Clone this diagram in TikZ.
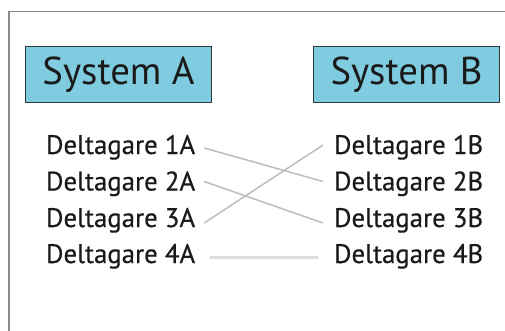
\documentclass[tikz,border=0pt]{standalone}
\usepackage{fontspec}
\setmainfont{PT Sans}
\newfontfamily\lblfont[FakeBold=0.5]{PT Sans}
\definecolor{boxfill}{HTML}{7FCCE0}
\definecolor{boxline}{HTML}{333A3D}
\definecolor{txt}{HTML}{1A1A1A}
\definecolor{frame}{HTML}{8A8A8A}
\definecolor{link}{HTML}{BDBDBD}
\definecolor{linkl}{HTML}{DDDDDD}
\begin{document}
\begin{tikzpicture}[x=1pt,y=-1pt,
  sysbox/.style={draw=boxline,line width=1.6pt,fill=boxfill,minimum width=186pt,minimum height=56pt,inner sep=0pt,
    font=\fontsize{38.8}{42}\selectfont,text=txt},
  lbl/.style={font=\lblfont\fontsize{26.8}{30}\selectfont,text=txt,inner sep=0pt,text height=19pt,text depth=5pt},
  lblA/.style={lbl,anchor=base west,outer xsep=9pt},
  lblB/.style={lbl,anchor=base west,outer xsep=11pt},
  conn/.style={draw=link,line width=1.5pt},
  conn4/.style={draw=linkl,line width=3pt}]
\useasboundingbox (0,0) rectangle (505,331);
\coordinate (fa) at (9,331);
\coordinate (fb) at (9,11.5);
\coordinate (fc) at (505,11.5);
\draw[frame,line width=1.6pt] (fa) -- (fb) -- (fc);
\node[sysbox] (sa) at (118.5,74.5) {System A};
\node[sysbox] (sb) at (406.5,74.5) {System B};
\node[lblA] (a1) at (37,154) {Deltagare 1A};
\node[lblA] (a2) at (37,190.5) {Deltagare 2A};
\node[lblA] (a3) at (37,227) {Deltagare 3A};
\node[lblA] (a4) at (37,263) {Deltagare 4A};
\node[lblB] (b1) at (323,154) {Deltagare 1B};
\node[lblB] (b2) at (323,190.5) {Deltagare 2B};
\node[lblB] (b3) at (323,227) {Deltagare 3B};
\node[lblB] (b4) at (323,263) {Deltagare 4B};
\draw[conn] ([yshift=-1pt]a1.east) -- ([yshift=2pt]b2.west);
\draw[conn] ([yshift=2pt]a2.east) -- ([yshift=-3pt]b3.west);
\draw[conn] ([yshift=-3pt]a3.east) -- ([yshift=2pt]b1.west);
\draw[conn4,shorten >=5pt,shorten <=6pt] ([yshift=-1pt]a4.east) -- ([yshift=-1pt]b4.west);
\end{tikzpicture}
\end{document}
